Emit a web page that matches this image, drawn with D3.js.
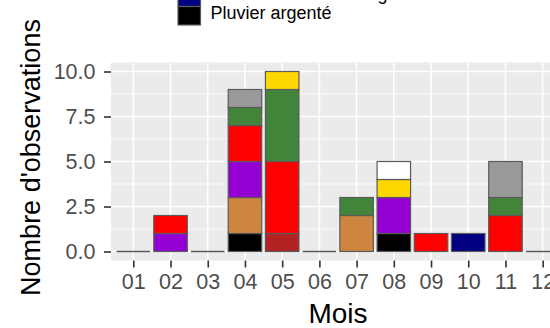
<!DOCTYPE html>
<html><head><meta charset="utf-8">
<script src="https://cdn.jsdelivr.net/npm/d3@7"></script>
<style>body{margin:0;background:#fff;} svg{display:block;font-family:"Liberation Sans",Arial,sans-serif;}</style>
</head><body>
<script>
// Data
const months = ["01","02","03","04","05","06","07","08","09","10","11","12"];
// species in stacking order, bottom to top
const species = ["Pluvier argenté","Bécasseau sanderling","Espèce C","Espèce D","Espèce E","Espèce F","Espèce G","Espèce H","Espèce I","Espèce J"];
const colors  = ["#000000","#000080","#B22222","#CD853F","#9400D3","#FF0000","#42853A","#FFD700","#999999","#FFFFFF"];
// counts per species per month
const counts = {
  "Pluvier argenté":      [0,0,0,1,0,0,0,1,0,0,0,0],
  "Bécasseau sanderling": [0,0,0,0,0,0,0,0,0,1,0,0],
  "Espèce C":             [0,0,0,0,1,0,0,0,0,0,0,0],
  "Espèce D":             [0,0,0,2,0,0,2,0,0,0,0,0],
  "Espèce E":             [0,1,0,2,0,0,0,2,0,0,0,0],
  "Espèce F":             [0,1,0,2,4,0,0,0,1,0,2,0],
  "Espèce G":             [0,0,0,1,4,0,1,0,0,0,1,0],
  "Espèce H":             [0,0,0,0,1,0,0,1,0,0,0,0],
  "Espèce I":             [0,0,0,1,0,0,0,0,0,0,2,0],
  "Espèce J":             [0,0,0,0,0,0,0,1,0,0,0,0]
};
const yTicks = [0, 2.5, 5, 7.5, 10];
const yTickLabels = ["0.0","2.5","5.0","7.5","10.0"];
const yMinor = [1.25, 3.75, 6.25, 8.75];

const W = 550, H = 328;
const panel = {left:111, right:565, top:62.5, bottom:260.5};
const svg = d3.select("body").append("svg").attr("width", W).attr("height", H);

const y = d3.scaleLinear().domain([-0.5, 10.5]).range([panel.bottom, panel.top]);
const xi = d3.scaleLinear().domain([0.4, 12.6]).range([panel.left, panel.right]);
const x = m => xi(months.indexOf(m) + 1);
const step = xi(2) - xi(1);
const bw = step * 0.9;

// panel background
svg.append("rect").attr("x", panel.left).attr("y", panel.top)
  .attr("width", panel.right - panel.left).attr("height", panel.bottom - panel.top).attr("fill", "#EBEBEB");
// minor grid
svg.selectAll(".gmin").data(yMinor).join("line")
  .attr("x1", panel.left).attr("x2", panel.right).attr("y1", d=>y(d)).attr("y2", d=>y(d))
  .attr("stroke", "#fff").attr("stroke-width", 0.8);
// major grid
svg.selectAll(".gmy").data(yTicks).join("line")
  .attr("x1", panel.left).attr("x2", panel.right).attr("y1", d=>y(d)).attr("y2", d=>y(d))
  .attr("stroke", "#fff").attr("stroke-width", 1.6);
svg.selectAll(".gmx").data(months).join("line")
  .attr("y1", panel.top).attr("y2", panel.bottom).attr("x1", d=>x(d)).attr("x2", d=>x(d))
  .attr("stroke", "#fff").attr("stroke-width", 1.6);

// stacked bars
const table = months.map((m, i) => {
  const row = {month: m};
  species.forEach(s => row[s] = counts[s][i]);
  return row;
});
const stack = d3.stack().keys(species)(table);
const g = svg.append("g");
stack.forEach((layer, k) => {
  g.selectAll(null).data(layer.filter(d => d[1] - d[0] > 0))
    .join("rect")
    .attr("x", d => x(d.data.month) - bw/2)
    .attr("width", bw)
    .attr("y", d => y(d[1]))
    .attr("height", d => y(d[0]) - y(d[1]))
    .attr("fill", colors[k])
    .attr("stroke", "#5A5A5A").attr("stroke-width", 1.2);
});
// zero-count months: flat outline at 0
const empty = table.filter(r => species.every(s => r[s] === 0));
g.selectAll(".zero").data(empty).join("line")
  .attr("x1", d => x(d.month) - bw/2).attr("x2", d => x(d.month) + bw/2)
  .attr("y1", y(0)).attr("y2", y(0))
  .attr("stroke", "#5A5A5A").attr("stroke-width", 1.4);

// axes
const yAxis = d3.axisLeft(y).tickValues(yTicks).tickFormat((d,i)=>yTickLabels[i]).tickSize(7).tickPadding(8.5);
const ya = svg.append("g").attr("transform", `translate(${panel.left},0)`).call(yAxis);
const xAxis = d3.axisBottom(xi).tickValues(months.map((m,i)=>i+1)).tickFormat((d)=>months[d-1]).tickSize(7).tickPadding(6);
const xa = svg.append("g").attr("transform", `translate(0,${panel.bottom})`).call(xAxis);
[ya, xa].forEach(a => {
  a.select(".domain").remove();
  a.selectAll(".tick line").attr("stroke", "#333333").attr("stroke-width", 1.6);
  a.selectAll(".tick text").attr("fill", "#4D4D4D").style("font-size", "21.5px").style("font-family", "'Liberation Sans',Arial,sans-serif");
});

// axis titles
svg.append("text").attr("x", (panel.left + panel.right)/2).attr("y", 323)
  .attr("text-anchor", "middle").style("font-size", "28px").attr("fill", "#000").text("Mois");
svg.append("text").attr("transform", `translate(40,${(panel.top+panel.bottom)/2 - 4}) rotate(-90)`)
  .attr("text-anchor", "middle").style("font-size", "27px").attr("fill", "#000").text("Nombre d'observations");

// legend (top of the figure, cropped by the frame): reverse order, last entry at y=6.5
const legend = species.slice().reverse();
const keyH = 18.5, keyW = 22.5, keyX = 178, lastTop = 6.5;
legend.forEach((s, i) => {
  const top = lastTop - (legend.length - 1 - i) * keyH;
  if (top + keyH < 0) return; // entirely above the visible frame
  const k = species.indexOf(s);
  svg.append("rect").attr("x", keyX).attr("y", top).attr("width", keyW).attr("height", keyH)
    .attr("fill", colors[k]).attr("stroke", "#5A5A5A").attr("stroke-width", 1.2);
  svg.append("text").attr("x", 210.5).attr("y", top + keyH/2 + 3)
    .style("font-size", "18px").attr("fill", "#000").text(s);
});
</script>
</body></html>
